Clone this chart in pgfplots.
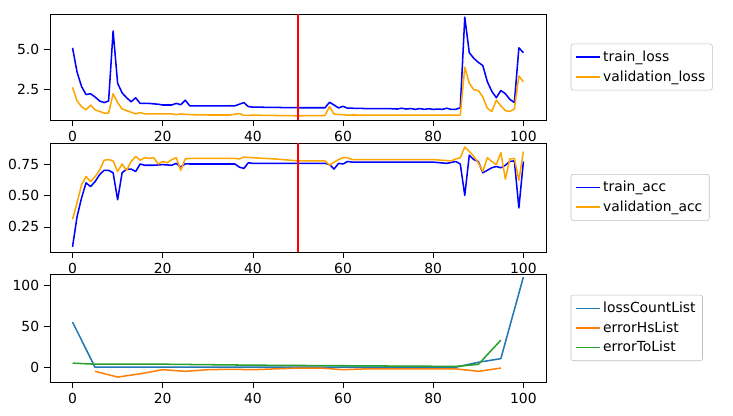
\documentclass[border=0pt]{standalone}
\usepackage{pgfplots}
\pgfplotsset{compat=1.18}
\usepackage{fontspec}
\setmainfont{DejaVu Sans}
\definecolor{orng}{HTML}{FFA500}
\definecolor{tb}{HTML}{1F77B4}
\definecolor{to}{HTML}{FF7F0E}
\definecolor{tg}{HTML}{2CA02C}
\pgfplotsset{every axis/.style={scale only axis, width=357.1pt, xmin=-5, xmax=105,
  xtick={0,20,40,60,80,100}, tick align=outside, tick style={black, thin},
  xtick pos=left, ytick pos=left,
  tick label style={font=\fontsize{10}{12}\selectfont}, /pgf/number format/assume math mode=true,
  legend style={at={(1.05,0.5)}, anchor=west, font=\fontsize{10}{12}\selectfont, draw=black!25, rounded corners=1.5pt, inner sep=3pt, row sep=1pt},
  legend cell align=left}}
\tikzset{L/.style={line width=1.1pt, line join=round}}
\begin{document}
\begin{tikzpicture}
\useasboundingbox (0,0) rectangle (527.8pt,299.5pt);
% top
\begin{axis}[at={(36pt,213.1pt)}, height=76.3pt, ymin=0.62, ymax=7.2, ytick={2.5,5.0},
  yticklabels={2.5,5.0}]
\addplot[blue, L] coordinates {(0,5.1)(1,3.6)(2,2.7)(3,2.2)(4,2.25)(5,2.05)(6,1.8)(7,1.7)(8,1.8)(9,6.15)(10,2.9)(11,2.3)(12,2.0)(13,1.75)(14,2.0)(15,1.65)(16,1.65)(17,1.65)(18,1.62)(19,1.6)(20,1.55)(21,1.55)(22,1.55)(23,1.65)(24,1.57)(25,1.85)(26,1.5)(27,1.5)(28,1.5)(30,1.5)(32,1.5)(34,1.5)(36,1.5)(37,1.6)(38,1.7)(39,1.45)(40,1.42)(45,1.4)(50,1.38)(56,1.38)(57,1.72)(58,1.55)(59,1.37)(60,1.47)(61,1.35)(62,1.35)(65,1.33)(70,1.33)(72,1.3)(73,1.35)(74,1.3)(75,1.33)(76,1.28)(77,1.33)(78,1.28)(79,1.32)(80,1.28)(81,1.3)(82,1.28)(83,1.35)(84,1.28)(85,1.28)(86,1.38)(87,7.0)(88,4.8)(89,4.45)(90,4.2)(91,4.0)(92,3.0)(93,2.4)(94,2.0)(95,2.45)(96,2.25)(97,1.9)(98,1.7)(99,5.1)(100,4.8)};
\addlegendentry{train\_loss}
\addplot[orng, L] coordinates {(0,2.65)(1,1.8)(2,1.45)(3,1.25)(4,1.55)(5,1.25)(6,1.15)(7,1.05)(8,1.05)(9,2.25)(10,1.7)(11,1.3)(12,1.2)(13,1.1)(14,1.0)(15,1.08)(16,1.0)(18,1.0)(20,1.0)(22,1.0)(23,0.95)(24,1.0)(26,0.95)(30,0.93)(35,0.93)(37,1.02)(38,0.9)(40,0.92)(45,0.9)(50,0.88)(56,0.9)(57,1.45)(58,0.98)(60,0.95)(61,0.92)(62,0.93)(70,0.92)(80,0.92)(86,0.92)(87,3.9)(88,2.9)(89,2.5)(90,2.45)(91,2.05)(92,1.35)(93,1.15)(94,1.85)(95,1.5)(96,1.2)(97,1.15)(98,1.3)(99,3.35)(100,3.0)};
\addlegendentry{validation\_loss}
\draw[red, line width=1.1pt] (axis cs:50,0.62) -- (axis cs:50,7.2);
\end{axis}
% middle
\begin{axis}[at={(36pt,118.1pt)}, height=78.5pt, ymin=0.05, ymax=0.918, ytick={0.25,0.5,0.75},
  yticklabels={0.25,0.50,0.75}]
\addplot[blue, L] coordinates {(0,0.09)(1,0.33)(2,0.48)(3,0.60)(4,0.57)(5,0.61)(6,0.665)(7,0.70)(8,0.70)(9,0.68)(10,0.465)(11,0.68)(12,0.71)(13,0.71)(14,0.69)(15,0.75)(16,0.74)(18,0.74)(20,0.745)(22,0.74)(23,0.755)(24,0.725)(25,0.752)(26,0.75)(30,0.75)(36,0.75)(37,0.725)(38,0.715)(39,0.76)(40,0.755)(56,0.755)(57,0.745)(58,0.71)(59,0.755)(60,0.75)(61,0.77)(62,0.765)(70,0.765)(75,0.765)(80,0.765)(83,0.755)(85,0.77)(86,0.75)(87,0.50)(88,0.82)(89,0.785)(90,0.77)(91,0.68)(92,0.70)(93,0.72)(94,0.73)(95,0.72)(96,0.74)(97,0.77)(98,0.775)(99,0.40)(100,0.77)};
\addlegendentry{train\_acc}
\addplot[orng, L] coordinates {(0,0.31)(1,0.44)(2,0.585)(3,0.65)(4,0.61)(5,0.65)(6,0.70)(7,0.78)(8,0.785)(9,0.775)(10,0.69)(11,0.75)(12,0.70)(13,0.77)(14,0.81)(15,0.78)(16,0.80)(17,0.795)(18,0.80)(19,0.75)(20,0.77)(21,0.76)(22,0.785)(23,0.80)(24,0.70)(25,0.79)(26,0.795)(30,0.795)(36,0.795)(37,0.79)(38,0.805)(40,0.80)(45,0.79)(50,0.775)(56,0.775)(57,0.74)(58,0.765)(59,0.785)(60,0.80)(61,0.80)(62,0.785)(70,0.785)(80,0.785)(84,0.775)(85,0.79)(86,0.80)(87,0.885)(88,0.85)(89,0.81)(90,0.76)(91,0.69)(92,0.80)(93,0.77)(94,0.745)(95,0.84)(96,0.63)(97,0.79)(98,0.795)(99,0.62)(100,0.85)};
\addlegendentry{validation\_acc}
\draw[red, line width=1.1pt] (axis cs:50,0.05) -- (axis cs:50,0.918);
\end{axis}
% bottom
\begin{axis}[at={(36pt,24.5pt)}, height=77.8pt, ymin=-17.9, ymax=113.8, ytick={0,50,100}]
\addplot[tb, L] coordinates {(0,55)(5,0)(10,0)(20,0)(40,0)(60,0)(80,0)(85,0)(90,6)(95,10.5)(100,110)};
\addlegendentry{lossCountList}
\addplot[to, L] coordinates {(5,-5)(10,-12)(15,-8)(20,-3)(25,-5)(30,-3)(35,-2.5)(40,-3)(45,-2)(50,-1)(55,-1)(60,-3)(65,-2)(70,-2)(75,-2)(80,-2)(85,-2)(90,-5)(95,-1)};
\addlegendentry{errorHsList}
\addplot[tg, L] coordinates {(0,5)(5,3.7)(10,3.7)(20,3.7)(25,3.4)(40,2.5)(60,1.8)(85,1)(90,3.5)(95,33)};
\addlegendentry{errorToList}
\end{axis}
\end{tikzpicture}
\end{document}
